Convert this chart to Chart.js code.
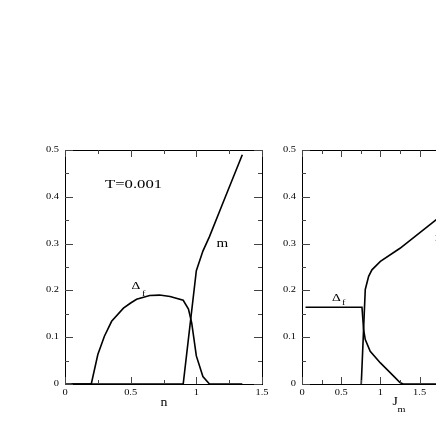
<!DOCTYPE html>
<html>
<head>
<meta charset="utf-8">
<script src="https://cdn.jsdelivr.net/npm/chart.js@4.4.0/dist/chart.umd.min.js"></script>
<style>
  html, body { margin: 0; padding: 0; background: #fff; overflow: hidden; }
  #wrap { position: relative; width: 436px; height: 436px; overflow: hidden; }
  canvas { position: absolute; left: 0; top: 0; }
</style>
</head>
<body>
<div id="wrap">
  <canvas id="left" width="436" height="436"></canvas>
  <canvas id="right" width="560" height="436"></canvas>
</div>
<script>
// panneau gauche : en fonction de n
const deltaN = [0.05, 0.2, 0.25, 0.3, 0.355, 0.445, 0.5, 0.545, 0.645, 0.72, 0.8, 0.9, 0.94, 0.965, 1.0, 1.05, 1.1, 1.35];
const deltaLeft = [0, 0, 0.063, 0.102, 0.134, 0.162, 0.173, 0.181, 0.189, 0.190, 0.187, 0.179, 0.160, 0.130, 0.060, 0.016, 0, 0];
const mN = [0, 0.9, 1.0, 1.05, 1.1, 1.2, 1.35];
const mLeft = [0, 0, 0.242, 0.284, 0.315, 0.385, 0.49];

// panneau droit : en fonction de J_m
const deltaJ = [0.045, 0.765, 0.786, 0.807, 0.87, 1.0, 1.15, 1.25, 1.29, 1.8];
const deltaRight = [0.164, 0.164, 0.116, 0.095, 0.070, 0.045, 0.020, 0.003, 0, 0];
const mJ = [0.756, 0.807, 0.85, 0.892, 1.0, 1.25, 1.713, 1.8];
const mRight = [0, 0.202, 0.23, 0.244, 0.262, 0.29, 0.351, 0.362];

// graduations
const xTicksLeft = [0, 0.5, 1, 1.5];
const xMinorLeft = [0.25, 0.75, 1.25];
const xTicksRight = [0, 0.5, 1, 1.5, 2, 2.5];
const xMinorRight = [0.25, 0.75, 1.25, 1.75, 2.25];
const yTicks = [0, 0.1, 0.2, 0.3, 0.4, 0.5];
const yMinor = [0.05, 0.15, 0.25, 0.35, 0.45];

const FONT = "'Liberation Serif', 'DejaVu Serif', serif";

function txt(ctx, s, x, y, size, align, base, stretch) {
    ctx.save();
    ctx.translate(x, y);
    ctx.scale(stretch || 1, 1);
    ctx.font = size + "px " + FONT;
    ctx.textAlign = align || "left";
    ctx.textBaseline = base || "alphabetic";
    ctx.fillStyle = "#000";
    ctx.fillText(s, 0, 0);
    ctx.restore();
}

// cadre, graduations vers l'intérieur et étiquettes
const framePlugin = {
    id: "frame",
    afterDraw(chart, args, opts) {
        const ctx = chart.ctx;
        const a = chart.chartArea;
        const xs = chart.scales.x, ys = chart.scales.y;
        ctx.save();
        ctx.strokeStyle = "#000";
        ctx.lineWidth = 1;
        ctx.strokeRect(Math.round(a.left) + 0.5, Math.round(a.top) + 0.5,
            Math.round(a.right - a.left), Math.round(a.bottom - a.top));

        ctx.strokeStyle = "#444";
        const tick = (x1, y1, x2, y2) => {
            ctx.beginPath(); ctx.moveTo(x1, y1); ctx.lineTo(x2, y2); ctx.stroke();
        };
        opts.xMajor.concat(opts.xMinor).forEach(v => {
            const len = opts.xMajor.includes(v) ? 7 : 4;
            const px = Math.round(xs.getPixelForValue(v)) + 0.5;
            tick(px, a.bottom, px, a.bottom - len);
            tick(px, a.top, px, a.top + len);
        });
        yTicks.concat(yMinor).forEach(v => {
            const len = yTicks.includes(v) ? 8 : 4;
            const py = Math.round(ys.getPixelForValue(v)) + 0.5;
            tick(a.left, py, a.left + len, py);
            tick(a.right, py, a.right - len, py);
        });
        ctx.restore();

        opts.xMajor.forEach(v => {
            txt(ctx, String(v), xs.getPixelForValue(v), a.bottom + 4.5, 8, "center", "top", 1.3);
        });
        yTicks.forEach(v => {
            txt(ctx, String(v), a.left - 6, ys.getPixelForValue(v), 8, "right", "middle", 1.3);
        });
        opts.texts.forEach(t => txt(ctx, t[0], t[1], t[2], t[3], "left", "alphabetic", t[4]));
    }
};

function lineSet(xv, yv) {
    return {
        data: xv.map((x, i) => ({ x: x, y: yv[i] })),
        borderColor: "#000",
        borderWidth: 1.6,
        pointRadius: 0,
        fill: false,
        tension: 0
    };
}

function makeChart(id, xMax, pad, deltaX, deltaY, mX, mY, frame) {
    return new Chart(document.getElementById(id).getContext("2d"), {
        type: "line",
        data: { datasets: [lineSet(deltaX, deltaY), lineSet(mX, mY)] },
        options: {
            responsive: false,
            animation: false,
            layout: { padding: pad },
            scales: {
                x: { type: "linear", min: 0, max: xMax, display: false },
                y: { type: "linear", min: 0, max: 0.5, display: false }
            },
            plugins: { legend: { display: false }, tooltip: { enabled: false }, frame: frame }
        },
        plugins: [framePlugin]
    });
}

makeChart("left", 1.5, { left: 65, right: 174, top: 150, bottom: 52 },
    deltaN, deltaLeft, mN, mLeft, {
        xMajor: xTicksLeft, xMinor: xMinorLeft,
        texts: [
            ["T=0.001", 105, 187.5, 11.5, 1.45],
            ["m", 216.5, 246.5, 12.5, 1.2],
            ["\u0394", 131.5, 289, 10.5, 1.3],
            ["f", 142, 295.5, 8.5, 1.2],
            ["n", 160.5, 405.5, 12, 1.15]
        ]
    });

makeChart("right", 2.5, { left: 302, right: 62, top: 150, bottom: 52 },
    deltaJ, deltaRight, mJ, mRight, {
        xMajor: xTicksRight, xMinor: xMinorRight,
        texts: [
            ["\u0394", 332, 301, 10.5, 1.3],
            ["f", 342, 304.5, 8.5, 1.2],
            ["m", 435, 241, 12, 1.2],
            ["J", 392.5, 405, 11.5, 1.2],
            ["m", 397.5, 411.5, 8.5, 1.2]
        ]
    });
</script>
</body>
</html>
